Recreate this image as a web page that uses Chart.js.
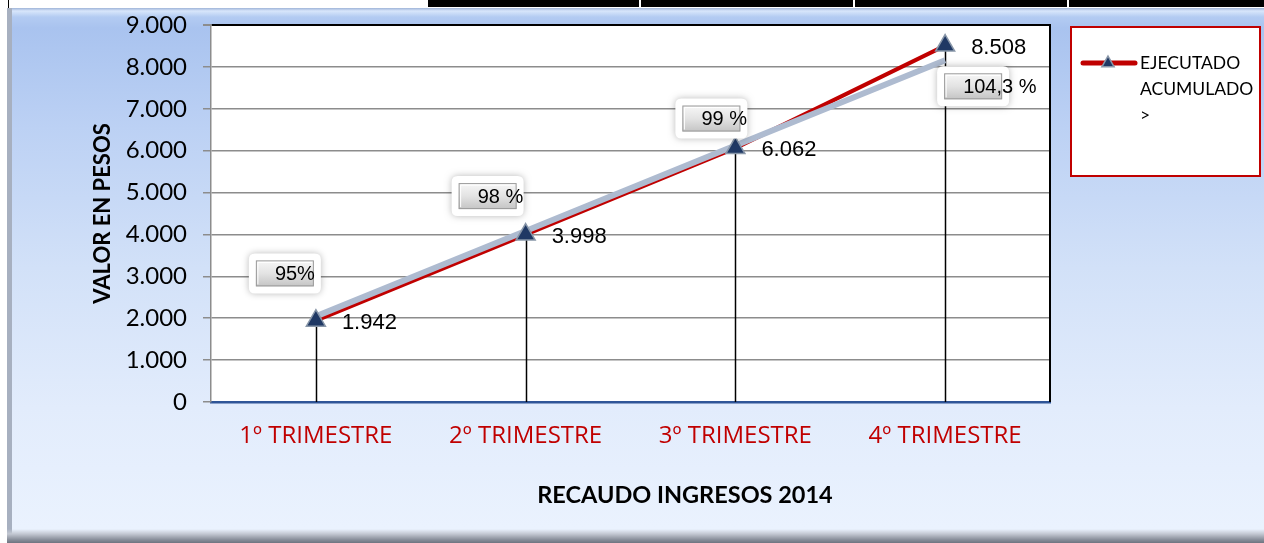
<!DOCTYPE html>
<html><head><meta charset="utf-8">
<script src="https://cdn.jsdelivr.net/npm/chart.js@4.4.1/dist/chart.umd.min.js"></script>
<style>
html,body{margin:0;padding:0;width:1264px;height:543px;overflow:hidden;background:#fff}
#strip{position:absolute;left:428px;top:0;width:836px;height:7px;background:#000}
.wl{position:absolute;top:0;width:2px;height:7px;background:#fff}
#lv{position:absolute;left:8px;top:0;width:1px;height:8px;background:#000}
#frame{position:absolute;left:7px;top:8px;width:1270px;height:535px;box-sizing:border-box;
 background:linear-gradient(to bottom,#9fb4d8 0px,#d8e6fb 3px,#b3cbf2 9px,#a9c3ef 20px,#bcd1f4 120px,#d2e1f8 260px,#e2ecfc 400px,#eaf2fe 520px);
 border-left:5px solid #a7b0c0;}
#bottom{position:absolute;left:7px;top:529px;width:1270px;height:14px;background:linear-gradient(to bottom,rgba(220,226,236,0) 0%,#c3c8d2 35%,#8a909c 75%,#6e7480 100%)}
canvas{position:absolute;left:0;top:0}
</style></head>
<body>
<div id="lv"></div>
<div id="strip"><div class="wl" style="left:211px"></div><div class="wl" style="left:425px"></div><div class="wl" style="left:639px"></div></div>
<div id="frame"></div>
<div id="bottom"></div>
<canvas id="c" width="1264" height="543"></canvas>
<script>
const categories = ['1º TRIMESTRE', '2º TRIMESTRE', '3º TRIMESTRE', '4º TRIMESTRE'];
const ejecutado = [1942, 3998, 6062, 8508];
const programado = [2044, 4080, 6123, 8157];
const cumplimientoLabels = ['95%', '98 %', '99 %', '104,3 %'];
const legendLines = ['EJECUTADO', 'ACUMULADO', '>'];
const xTitle = 'RECAUDO INGRESOS 2014';
const yTitle = 'VALOR EN PESOS';

const RED = '#c00000';
const fmt = v => String(v).replace(/\B(?=(\d{3})+(?!\d))/g, '.');

// offsets of the percentage callouts relative to the programado points
const boxOffsets = [[-60, -56], [-67, -48], [-53, -40], [-1, 13]];

function roundRect(ctx, x, y, w, h, r) {
  ctx.beginPath();
  ctx.moveTo(x + r, y);
  ctx.lineTo(x + w - r, y); ctx.quadraticCurveTo(x + w, y, x + w, y + r);
  ctx.lineTo(x + w, y + h - r); ctx.quadraticCurveTo(x + w, y + h, x + w - r, y + h);
  ctx.lineTo(x + r, y + h); ctx.quadraticCurveTo(x, y + h, x, y + h - r);
  ctx.lineTo(x, y + r); ctx.quadraticCurveTo(x, y, x + r, y);
  ctx.closePath();
}

const decor = {
  id: 'decor',
  beforeDraw(chart) {
    const {ctx, chartArea: a} = chart;
    ctx.save();
    ctx.fillStyle = '#fff';
    ctx.fillRect(a.left, a.top, a.right - a.left, a.bottom - a.top);
    ctx.restore();
  },
  beforeDatasetsDraw(chart) {
    const {ctx} = chart;
    const y0 = chart.scales.y.getPixelForValue(0);
    const meta = chart.getDatasetMeta(2);
    ctx.save();
    ctx.strokeStyle = '#000';
    ctx.lineWidth = 1.5;
    meta.data.forEach(p => {
      ctx.beginPath();
      ctx.moveTo(Math.round(p.x) + 0.5, p.y);
      ctx.lineTo(Math.round(p.x) + 0.5, y0);
      ctx.stroke();
    });
    ctx.restore();
  },
  afterDatasetsDraw(chart) {
    const {ctx} = chart;
    ctx.save();
    const meta = chart.getDatasetMeta(2);
    ctx.font = '22px "Liberation Sans", Arial, sans-serif';
    ctx.fillStyle = '#000';
    ctx.textAlign = 'left';
    ctx.textBaseline = 'middle';
    meta.data.forEach((p, i) => {
      ctx.fillText(fmt(ejecutado[i]), p.x + 26, p.y + 2);
    });
    const gm = chart.getDatasetMeta(1);
    gm.data.forEach((p, i) => {
      const bx = p.x + boxOffsets[i][0], by = p.y + boxOffsets[i][1];
      const bw = 58, bh = 26;
      ctx.save();
      ctx.shadowColor = 'rgba(0,0,0,0.28)';
      ctx.shadowBlur = 7;
      ctx.fillStyle = '#fff';
      roundRect(ctx, bx - 7, by - 7, bw + 14, bh + 14, 6);
      ctx.fill();
      ctx.restore();
      const g = ctx.createLinearGradient(0, by, 0, by + bh);
      g.addColorStop(0, '#f7f7f7');
      g.addColorStop(0.5, '#e3e3e3');
      g.addColorStop(1, '#c4c4c4');
      ctx.fillStyle = g;
      ctx.fillRect(bx, by, bw, bh);
      ctx.strokeStyle = '#9a9a9a';
      ctx.lineWidth = 1;
      ctx.strokeRect(bx + 0.5, by + 0.5, bw - 1, bh - 1);
      ctx.strokeStyle = '#ffffff';
      ctx.beginPath();
      ctx.moveTo(bx + 2, by + bh - 2); ctx.lineTo(bx + 2, by + 2); ctx.lineTo(bx + bw - 2, by + 2);
      ctx.stroke();
      ctx.fillStyle = '#000';
      ctx.font = '20px "Liberation Sans", Arial, sans-serif';
      ctx.textBaseline = 'middle';
      ctx.fillText(cumplimientoLabels[i], bx + 19, by + bh / 2 + 1);
    });
    ctx.restore();
  },
  afterDraw(chart) {
    const {ctx, chartArea: a} = chart;
    ctx.save();
    ctx.strokeStyle = '#000';
    ctx.lineWidth = 2;
    ctx.beginPath();
    ctx.moveTo(a.right, a.top - 1);
    ctx.lineTo(a.right, a.bottom);
    ctx.stroke();
    // x axis title (centred on the whole chart, as in the original)
    ctx.fillStyle = '#000';
    ctx.font = 'bold 23.5px Lato, "Open Sans", sans-serif';
    ctx.textAlign = 'center';
    ctx.textBaseline = 'middle';
    ctx.fillText(xTitle, 685, 495);
    // legend
    ctx.fillStyle = '#fff';
    ctx.fillRect(1071, 27, 189, 149);
    ctx.strokeStyle = RED;
    ctx.lineWidth = 2;
    ctx.strokeRect(1071, 27, 189, 149);
    ctx.lineWidth = 5;
    ctx.lineCap = 'round';
    ctx.beginPath();
    ctx.moveTo(1083, 63); ctx.lineTo(1135, 63);
    ctx.stroke();
    const r = 7, cx = 1108, cy = 63;
    ctx.beginPath();
    ctx.moveTo(cx, cy - r);
    ctx.lineTo(cx + r * 0.87, cy + r * 0.55);
    ctx.lineTo(cx - r * 0.87, cy + r * 0.55);
    ctx.closePath();
    ctx.fillStyle = '#1f3864';
    ctx.fill();
    ctx.strokeStyle = '#8896a8';
    ctx.lineWidth = 1.5;
    ctx.stroke();
    ctx.fillStyle = '#000';
    ctx.font = '17.5px Lato, "Open Sans", sans-serif';
    ctx.textAlign = 'left';
    ctx.textBaseline = 'middle';
    legendLines.forEach((t, i) => ctx.fillText(t, 1140, 63 + i * 26));
    ctx.restore();
  }
};

new Chart(document.getElementById('c'), {
  type: 'line',
  data: {
    labels: categories,
    datasets: [
      {label: 'EJECUTADO ACUMULADO', data: ejecutado, borderColor: RED, borderWidth: 4,
       pointRadius: 0, fill: false, order: 2},
      {label: 'PROGRAMADO', data: programado, borderColor: '#aebbd0', borderWidth: 6,
       pointRadius: 0, fill: false, order: 1},
      {label: 'marcador', data: ejecutado, showLine: false, pointStyle: 'triangle', pointRadius: 11,
       pointBackgroundColor: '#1f3864', pointBorderColor: '#8896a8', pointBorderWidth: 1.5, order: 0}
    ]
  },
  options: {
    responsive: false,
    devicePixelRatio: 1,
    animation: false,
    events: [],
    layout: {padding: {top: 25, right: 214, left: 0, bottom: 0}},
    plugins: {legend: {display: false}, tooltip: {enabled: false}},
    scales: {
      x: {
        offset: true,
        grid: {display: false, drawTicks: false},
        border: {display: true, color: '#2f5597', width: 2.5},
        ticks: {color: RED, padding: 20, maxRotation: 0, font: {family: '"Open Sans", sans-serif', size: 24}},
        afterFit: s => { s.height = 141; s.paddingLeft = 0; s.paddingRight = 0; }
      },
      y: {
        min: 0, max: 9000,
        ticks: {stepSize: 1000, color: '#000', padding: 16, callback: v => fmt(v),
                font: {family: 'Lato, "Open Sans", sans-serif', size: 24}},
        grid: {color: c => c.tick && c.tick.value === 9000 ? '#000' : (c.tick && c.tick.value === 0 ? '#2f5597' : '#8c8c8c'),
               lineWidth: c => c.tick && c.tick.value === 9000 ? 2 : 1.5,
               tickColor: '#8c8c8c', tickLength: 8},
        border: {display: true, color: '#8c8c8c', width: 1.5},
        title: {display: true, text: yTitle, color: '#000',
                font: {family: 'Lato, "Open Sans", sans-serif', size: 22, weight: 'bold'},
                padding: {top: 90, bottom: 0}},
        afterFit: s => { s.width = 211; s.paddingTop = 0; s.paddingBottom = 0; }
      }
    }
  },
  plugins: [decor]
});
</script>
</body></html>
